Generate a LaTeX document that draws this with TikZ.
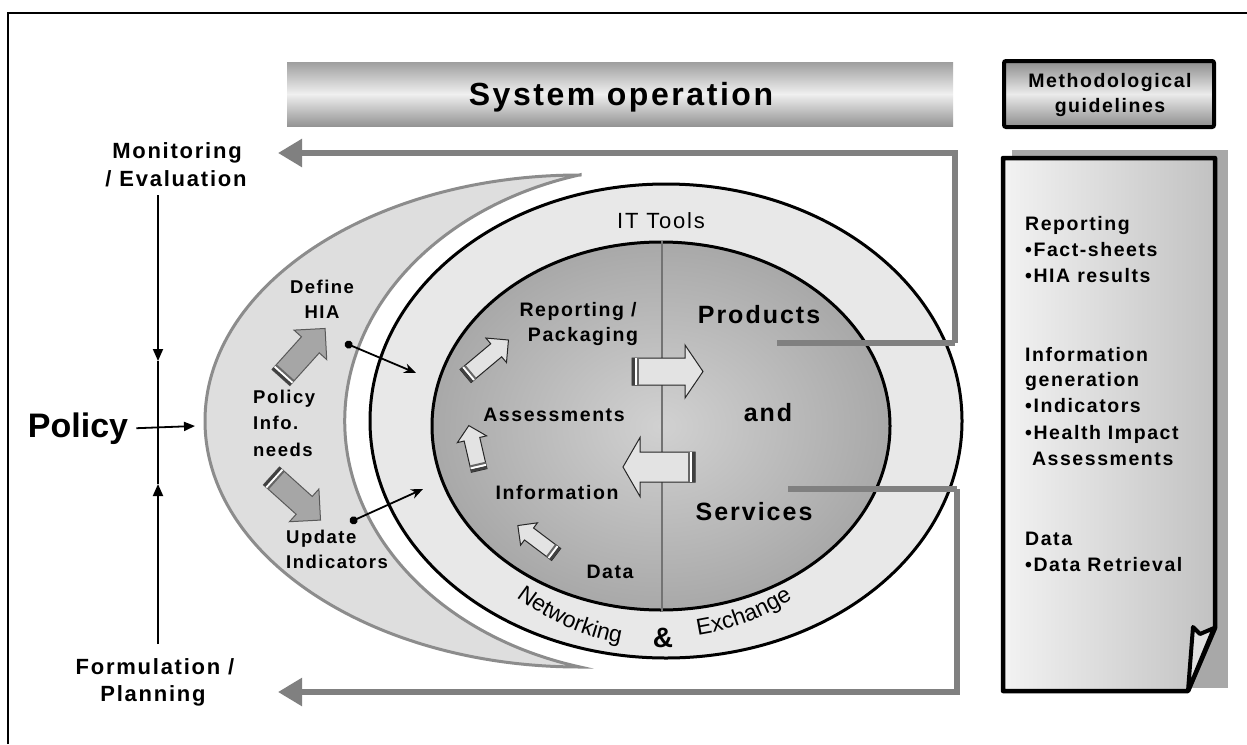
\documentclass[tikz,border=0pt]{standalone}
\usepackage{fontspec}
\setmainfont{Liberation Sans}
\newfontfamily\lsfont{Liberation Sans}[LetterSpace=8]
\newfontfamily\wsfont{Liberation Sans}[LetterSpace=14]
\usetikzlibrary{arrows.meta,decorations.text,shapes.geometric}
\pgfdeclareradialshading{coresh}{\pgfpoint{0bp}{0bp}}{color(0bp)=(black!18); color(50bp)=(black!50)}
\newcommand\blkarrow[7]{% #1 centre, #2 angle, #3 length, #4 shaft half width, #5 head half width, #6 head length, #7 style
  \begin{scope}[shift={#1},rotate=#2]
    \draw[#7,line join=miter] (-#3/2,-#4) -- (#3/2-#6,-#4) -- (#3/2-#6,-#5) -- (#3/2,0)
      -- (#3/2-#6,#5) -- (#3/2-#6,#4) -- (-#3/2,#4) -- cycle;
    \fill[black!75] (-#3/2,-#4) rectangle (-#3/2+3,#4);
    \fill[white] (-#3/2+3,-#4) rectangle (-#3/2+5,#4);
    \fill[black!60] (-#3/2+5,-#4) rectangle (-#3/2+7,#4);
  \end{scope}}
\begin{document}
\begin{tikzpicture}[x=1pt,y=1pt,
  conn/.style={draw=gray,line width=5.5pt},
  bigtip/.style={-{Triangle[length=24pt,width=27pt]}},
  blk/.style={line width=1.8pt,draw=black},
  txt/.style={inner sep=0pt,anchor=base},
  fA/.style={txt,font=\lsfont\bfseries\fontsize{19.5}{24}\selectfont},
  fB/.style={txt,font=\lsfont\bfseries\fontsize{18.5}{22}\selectfont},
  fC/.style={txt,font=\lsfont\bfseries\fontsize{22}{26}\selectfont},
  fD/.style={txt,font=\lsfont\bfseries\fontsize{25}{30}\selectfont},
  crarrow/.style={fill=gray!70,draw=black!65,line width=1pt},
  inarrow/.style={fill=gray!22,draw=black!85,line width=1pt}]
\useasboundingbox (0,0) rectangle (1247,-744);
\fill[white] (0,0) rectangle (1247,-744);
% frame
\draw[line width=2.5pt] (8,-744) -- (8,-13) -- (1247,-13);
% system operation bar
\node[inner sep=0pt,minimum width=666pt,minimum height=64pt,top color=black!38,bottom color=black!42,middle color=black!6] (sysbar) at (620,-94) {};
\node[txt,font=\lsfont\bfseries\fontsize{32}{38}\selectfont] (systxt) at (621,-105) {System operation};
% methodological guidelines
\node[draw,line width=4pt,rounded corners=2pt,inner sep=0pt,minimum width=210pt,minimum height=66pt,top color=black!45,bottom color=black!45,middle color=black!8] (methbox) at (1109,-94) {};
\node[fA] (meth1) at (1110,-87) {Methodological};
\node[fA] (meth2) at (1110,-112) {guidelines};
% page with shadow
\fill[black!34] (1012,-150) rectangle (1228,-688);
\draw[line width=4.5pt,line join=round,left color=black!5,right color=black!24] (1003,-158) -- (1215,-158) -- (1215,-628) -- (1188,-691) -- (1003,-691) -- cycle;
\draw[line width=4pt,line join=round,fill=black!12] (1193,-627) -- (1200,-634) -- (1214,-628) -- (1188,-691) -- cycle;
\foreach \yy/\lbl [count=\i] in {230/Reporting,256/•Fact-sheets,282/•HIA results,361/Information,386/generation,412/•Indicators,439/•Health Impact,465/\hphantom{•}Assessments,545/Data,571/•Data Retrieval}
  \node[fA,anchor=base west] (rp\i) at (1025,-\yy) {\lbl};
% crescent
\draw[draw=black!45,line width=3pt,fill=black!13] (580,-175) arc[start angle=90,end angle=270,x radius=375,y radius=246]
  arc[start angle=254.5,end angle=105.5,x radius=321,y radius=255.4] -- cycle;
% ring and core
\node[draw,line width=3pt,ellipse,fill=black!9,minimum width=592pt,minimum height=474pt,inner sep=0pt] (ring) at (666,-421) {};
\node[draw,line width=3pt,ellipse,shading=coresh,minimum width=458pt,minimum height=368pt,inner sep=0pt] (core) at (661,-426) {};
\draw[line width=2.5pt,black!55] (core.north) ++(1,0) -- ([xshift=1pt]core.south);
% gray connectors
\coordinate (pe) at (777,-343); \coordinate (pr) at (955,-343);
\coordinate (tt) at (955,-153); \coordinate (tl) at (278,-153);
\coordinate (se) at (788,-489); \coordinate (sr) at (957,-489);
\coordinate (bb) at (957,-692); \coordinate (bl) at (278,-692);
\draw[conn] (pe) -- (pr);
\draw[conn,bigtip] (pr) -- (tt) -- (tl);
\draw[conn] (se) -- (sr);
\draw[conn,bigtip] (sr) -- (bb) -- (bl);
% left policy axis
\coordinate (vtop) at (158,-195); \coordinate (vbot) at (158,-644);
\coordinate (vdn) at (158,-361); \coordinate (vup) at (158,-484);
\draw[blk,-{Triangle[length=12pt,width=10pt]}] (vtop) -- (vdn);
\draw[blk,-{Triangle[length=12pt,width=10pt]}] (vbot) -- (vup);
\draw[blk] (vdn) -- (vup);
\node[txt,font=\bfseries\fontsize{34}{40}\selectfont] (pol) at (78,-437) {Policy};
\coordinate (pa) at (195,-426);
\draw[blk,-{Triangle[length=11pt,width=9pt]}] ([xshift=8pt]pol.east) -- (pa);
\node[fC] (mon1) at (177,-158) {Monitoring};
\node[fC] (mon2) at (176,-186) {/ Evaluation};
\node[fC] (for1) at (155,-674) {Formulation /};
\node[fC] (for2) at (153,-701) {Planning};
% crescent texts
\node[fB] (def1) at (322,-293) {Define};
\node[fB] (def2) at (322,-318) {HIA};
\node[fB,anchor=base west] (pin1) at (253,-403) {Policy};
\node[fB,anchor=base west] (pin2) at (253,-429) {Info.};
\node[fB,anchor=base west] (pin3) at (253,-456) {needs};
\node[fB,anchor=base west] (upd1) at (286,-543) {Update};
\node[fB,anchor=base west] (upd2) at (286,-568) {Indicators};
% crescent arrows
\blkarrow{(303,-353)}{48}{66}{12}{22}{22}{crarrow}
\blkarrow{(296,-498)}{-42}{66}{12}{22}{22}{crarrow}
% dot connectors
\coordinate (hiaDot) at (345,-343); \coordinate (hiaTip) at (416,-373);
\coordinate (updDot) at (350,-522); \coordinate (updTip) at (423,-489);
\draw[blk,{Circle[length=8pt]}-{Stealth[length=12pt,width=10pt]}] (hiaDot) -- (hiaTip);
\draw[blk,{Circle[length=8pt]}-{Stealth[length=12pt,width=10pt]}] (updDot) -- (updTip);
% ring texts
\node[txt,font=\lsfont\fontsize{22}{26}\selectfont] (ittools) at (661,-228) {IT Tools};
\path[decorate,decoration={text along path,text align=center,text={|\wsfont\fontsize{23}{26}\selectfont|Networking}}]
  (662,-410) ++(226:237) arc[start angle=226,end angle=266,radius=237];
\path[decorate,decoration={text along path,text align=center,text={|\wsfont\fontsize{23}{26}\selectfont|Exchange}}]
  (662,-400) ++(273:238) arc[start angle=273,end angle=309,radius=238];
\node[txt,font=\bfseries\fontsize{28}{32}\selectfont] (amp) at (663,-647) {\&};
% core texts
\node[fA] (rep1) at (578,-316) {Reporting /};
\node[fA] (rep2) at (583,-341) {Packaging};
\node[fA] (ass) at (554,-421) {Assessments};
\node[fA] (inf) at (557,-499) {Information};
\node[fA] (dat) at (610,-578) {Data};
\node[fD] (prod) at (759,-323) {Products};
\node[fD] (and) at (768,-421) {and};
\node[fD] (serv) at (754,-520) {Services};
% core arrows
\blkarrow{(487,-358)}{40}{56}{8.5}{16}{16}{inarrow}
\blkarrow{(474,-448)}{103}{46}{8}{15}{14}{inarrow}
\blkarrow{(537,-540)}{143}{48}{7.5}{14}{14}{inarrow}
\blkarrow{(667.5,-371.5)}{0}{71}{13.5}{26.5}{18}{inarrow}
\blkarrow{(659,-467)}{180}{72}{15}{29.5}{17}{inarrow}
\end{tikzpicture}
\end{document}
